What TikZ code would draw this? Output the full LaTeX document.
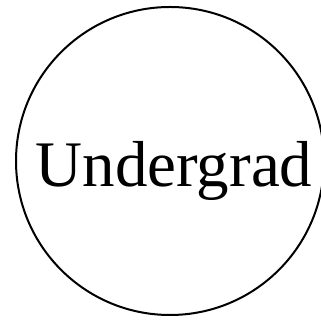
\documentclass[tikz,border=0pt]{standalone}
\usepackage{fontspec}
\setmainfont{Liberation Serif}
\tikzset{
  ring/.style={circle, draw=black, line width=2pt, minimum size=308pt, inner sep=0pt},
  ringtext/.style={anchor=base, font=\fontsize{65}{72}\selectfont, inner sep=0pt},
}
\begin{document}
\begin{tikzpicture}[x=1pt, y=1pt]
  \useasboundingbox (0,0) rectangle (320,320);
  \node[ring] (ugcircle) at (170,159) {};
  \node[ringtext] (uglabel) at (174,133) {Undergrad};
\end{tikzpicture}
\end{document}
